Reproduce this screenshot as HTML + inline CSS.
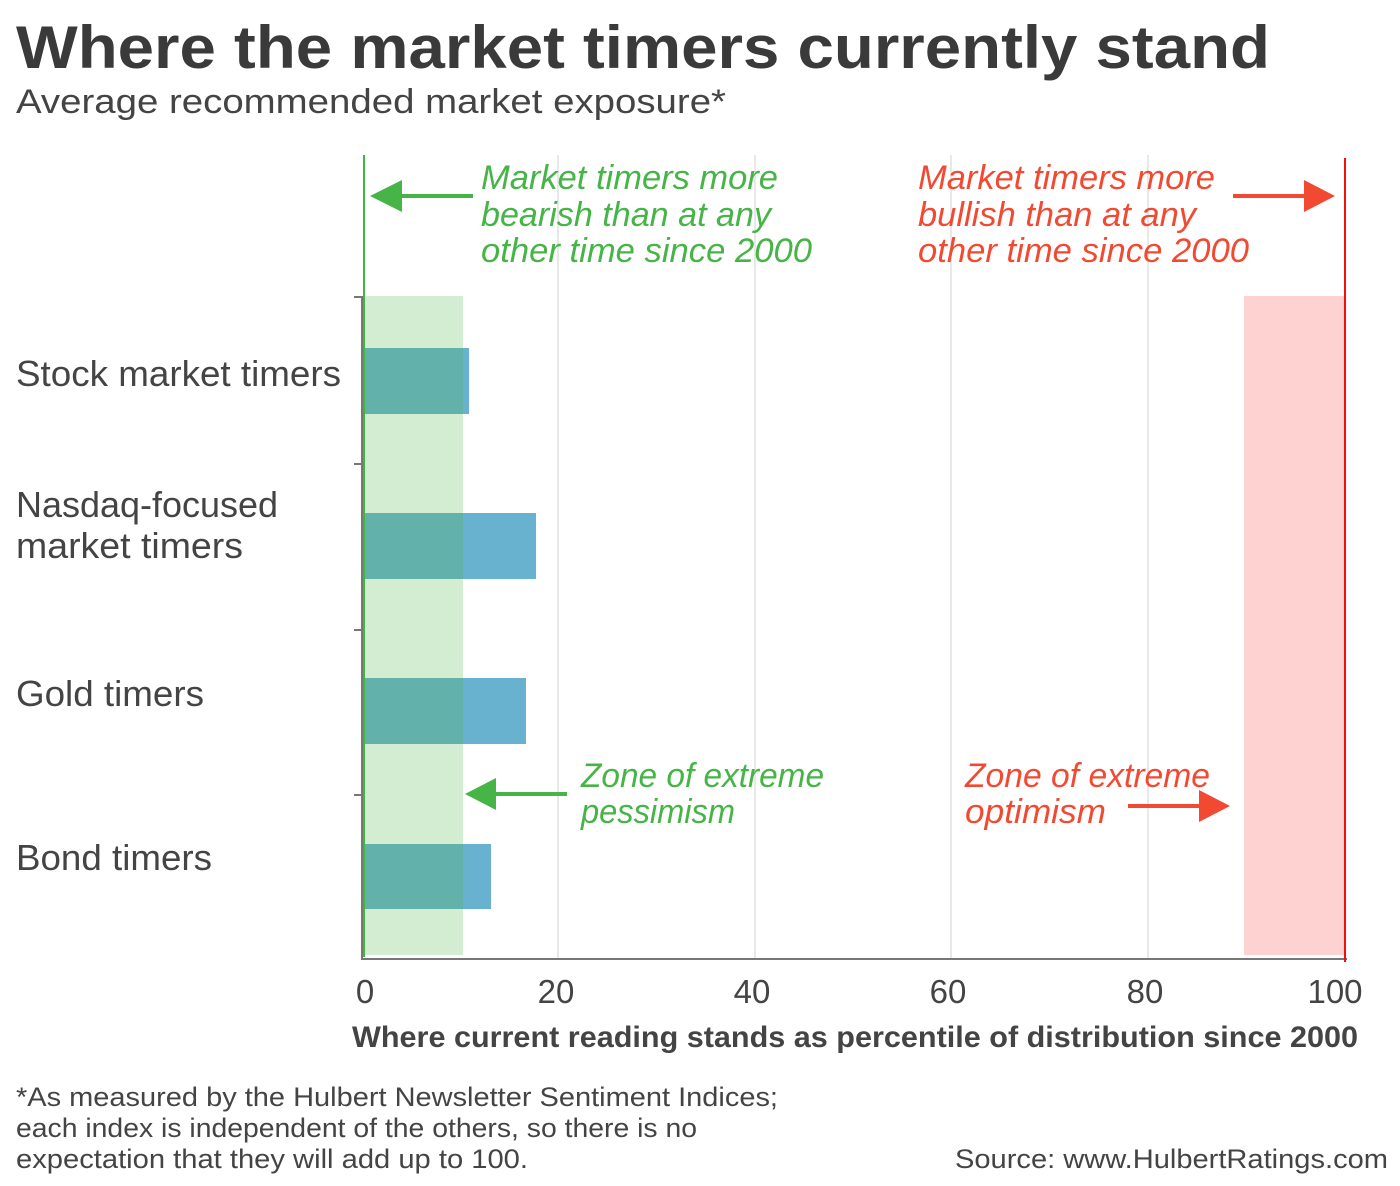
<!DOCTYPE html>
<html><head><meta charset="utf-8"><style>
html,body{margin:0;padding:0;background:#fff;}
svg{display:block;font-family:"Liberation Sans",sans-serif;}
</style></head><body>
<svg width="1400" height="1186" viewBox="0 0 1400 1186" xmlns="http://www.w3.org/2000/svg">
<text x="16" y="68" font-size="60" font-weight="bold" fill="#3a3a3a" textLength="1254" lengthAdjust="spacingAndGlyphs">Where the market timers currently stand</text>
<text x="16" y="113" font-size="34" fill="#444" textLength="710" lengthAdjust="spacingAndGlyphs">Average recommended market exposure*</text>
<g stroke="#d0d0d0" stroke-width="1">
<line x1="558" y1="155" x2="558" y2="958"/><line x1="755" y1="155" x2="755" y2="958"/>
<line x1="951" y1="155" x2="951" y2="958"/><line x1="1148" y1="155" x2="1148" y2="958"/>
</g>
<rect x="363" y="296" width="100" height="659" fill="#d3edd2"/>
<rect x="1244" y="296" width="101" height="659" fill="#fdd2d0"/>
<g fill="#68b2cf">
<rect x="463" y="348" width="6" height="66"/>
<rect x="463" y="513" width="73" height="66"/>
<rect x="463" y="678" width="63" height="66"/>
<rect x="463" y="844" width="28" height="65"/>
</g>
<g fill="#62b2ab">
<rect x="363" y="348" width="100" height="66"/>
<rect x="363" y="513" width="100" height="66"/>
<rect x="363" y="678" width="100" height="66"/>
<rect x="363" y="844" width="100" height="65"/>
</g>
<line x1="362" y1="296" x2="362" y2="960" stroke="#777" stroke-width="2"/>
<line x1="361" y1="959" x2="1347" y2="959" stroke="#777" stroke-width="2"/>
<g stroke="#777" stroke-width="2">
<line x1="354" y1="297" x2="362" y2="297"/><line x1="354" y1="464" x2="362" y2="464"/>
<line x1="354" y1="630" x2="362" y2="630"/><line x1="354" y1="795" x2="362" y2="795"/>
</g>
<line x1="364" y1="155" x2="364" y2="957" stroke="#3db83d" stroke-width="2"/>
<line x1="1345" y1="158" x2="1345" y2="962" stroke="#f01010" stroke-width="2"/>
<g font-size="36" fill="#444">
<text x="16" y="386" textLength="325" lengthAdjust="spacingAndGlyphs">Stock market timers</text>
<text x="16" y="517" textLength="262" lengthAdjust="spacingAndGlyphs">Nasdaq-focused</text>
<text x="16" y="558" textLength="227" lengthAdjust="spacingAndGlyphs">market timers</text>
<text x="16" y="706" textLength="188" lengthAdjust="spacingAndGlyphs">Gold timers</text>
<text x="16" y="870" textLength="196" lengthAdjust="spacingAndGlyphs">Bond timers</text>
</g>
<g font-size="33" fill="#444" text-anchor="middle">
<text x="365" y="1003">0</text><text x="556" y="1003">20</text><text x="752" y="1003">40</text>
<text x="948" y="1003">60</text><text x="1145" y="1003">80</text><text x="1335" y="1003">100</text>
</g>
<text x="352" y="1047" font-size="30" font-weight="bold" fill="#444" textLength="1006" lengthAdjust="spacingAndGlyphs">Where current reading stands as percentile of distribution since 2000</text>
<g font-size="34" font-style="italic" fill="#46b446">
<text x="481" y="189" textLength="297" lengthAdjust="spacingAndGlyphs">Market timers more</text>
<text x="481" y="226" textLength="290" lengthAdjust="spacingAndGlyphs">bearish than at any</text>
<text x="481" y="262" textLength="331" lengthAdjust="spacingAndGlyphs">other time since 2000</text>
<text x="581" y="787" textLength="243" lengthAdjust="spacingAndGlyphs">Zone of extreme</text>
<text x="581" y="823" textLength="154" lengthAdjust="spacingAndGlyphs">pessimism</text>
</g>
<g font-size="34" font-style="italic" fill="#f24a32">
<text x="918" y="189" textLength="297" lengthAdjust="spacingAndGlyphs">Market timers more</text>
<text x="918" y="226" textLength="278" lengthAdjust="spacingAndGlyphs">bullish than at any</text>
<text x="918" y="262" textLength="331" lengthAdjust="spacingAndGlyphs">other time since 2000</text>
<text x="965" y="787" textLength="245" lengthAdjust="spacingAndGlyphs">Zone of extreme</text>
<text x="965" y="823" textLength="141" lengthAdjust="spacingAndGlyphs">optimism</text>
</g>
<line x1="400" y1="196" x2="473" y2="196" stroke="#46b446" stroke-width="4"/>
<polygon points="370,196 402,180 402,212" fill="#46b446"/>
<line x1="494" y1="794" x2="567" y2="794" stroke="#46b446" stroke-width="4"/>
<polygon points="465,794 496,778 496,810" fill="#46b446"/>
<line x1="1233" y1="196" x2="1306" y2="196" stroke="#f24a32" stroke-width="4"/>
<polygon points="1335,196 1304,180 1304,212" fill="#f24a32"/>
<line x1="1128" y1="806" x2="1200" y2="806" stroke="#f24a32" stroke-width="4"/>
<polygon points="1230,806 1199,790 1199,822" fill="#f24a32"/>
<g font-size="27" fill="#444">
<text x="16" y="1106" textLength="762" lengthAdjust="spacingAndGlyphs">*As measured by the Hulbert Newsletter Sentiment Indices;</text>
<text x="16" y="1137" textLength="681" lengthAdjust="spacingAndGlyphs">each index is independent of the others, so there is no</text>
<text x="16" y="1168" textLength="512" lengthAdjust="spacingAndGlyphs">expectation that they will add up to 100.</text>
<text x="955" y="1168" textLength="433" lengthAdjust="spacingAndGlyphs">Source: www.HulbertRatings.com</text>
</g>
</svg>
</body></html>
